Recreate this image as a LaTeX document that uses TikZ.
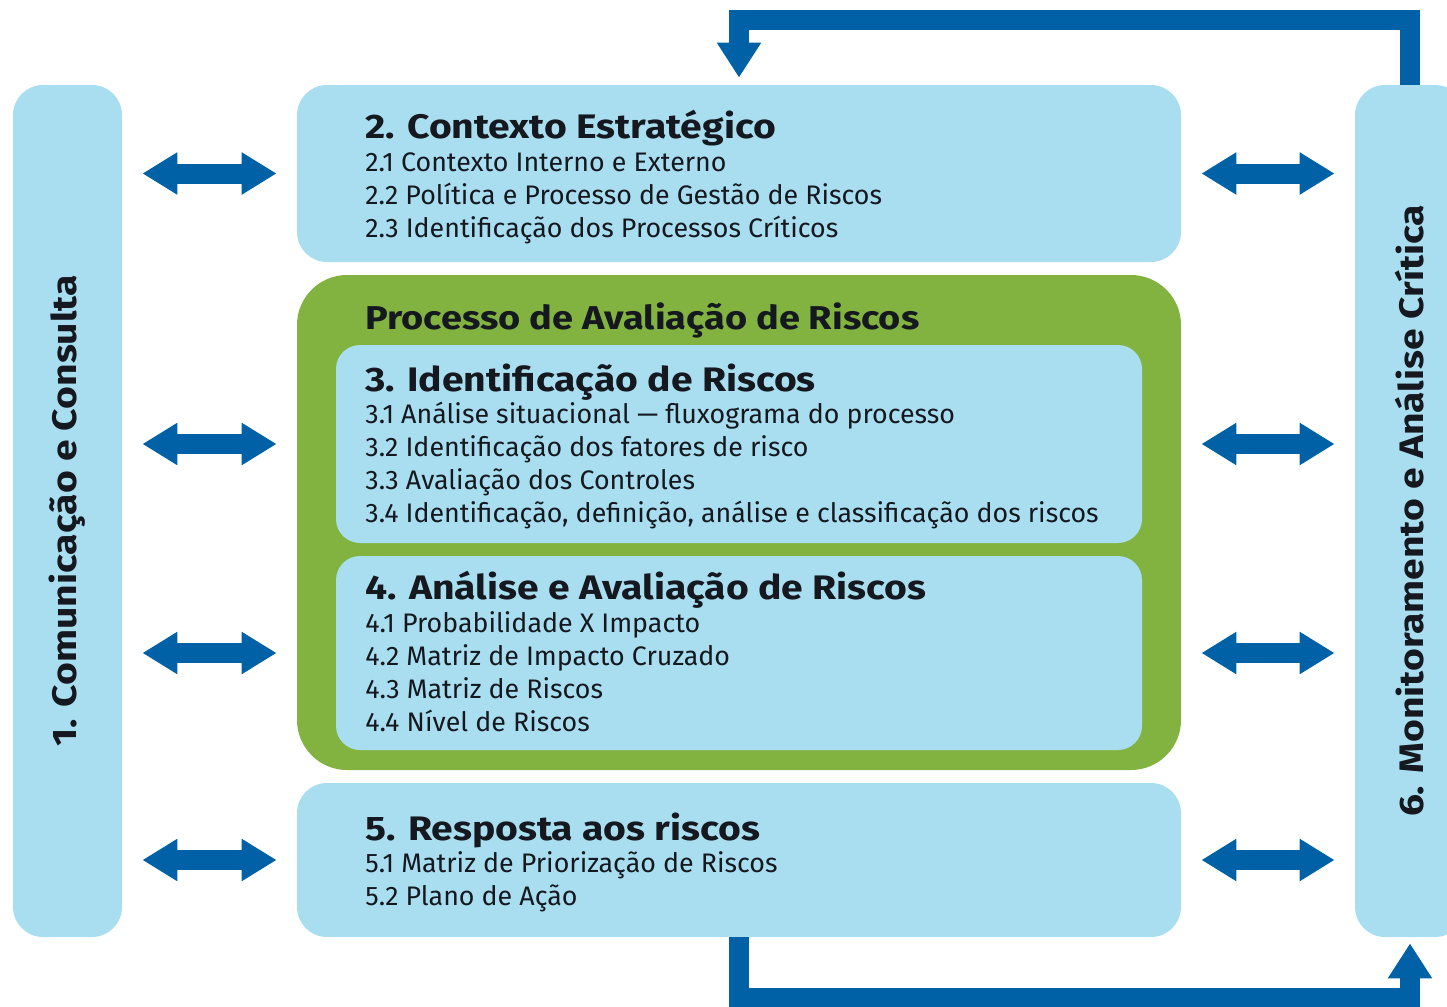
\documentclass[tikz,border=0pt]{standalone}
\usepackage{fontspec}
\setmainfont{Fira Sans}[BoldFeatures={FakeStretch=1.15}]
\usetikzlibrary{arrows.meta}
\definecolor{boxblue}{HTML}{A9DEF0}
\definecolor{procgreen}{HTML}{82B341}
\definecolor{flowblue}{HTML}{0061A6}
\definecolor{inkdark}{HTML}{15191F}

\begin{document}
\begin{tikzpicture}[x=0.5pt,y=-0.5pt,
    panel/.style={fill=boxblue,rounded corners=15pt,inner sep=0pt},
    inner panel/.style={fill=boxblue,rounded corners=12pt,inner sep=0pt},
    title/.style={font=\bfseries\fontsize{17}{20}\selectfont,text=inkdark,anchor=base west,inner sep=0pt},
    body/.style={font=\fontsize{13.4}{15}\selectfont,text=inkdark,anchor=base west,inner sep=0pt},
    side/.style={font=\bfseries\fontsize{17}{20}\selectfont,text=inkdark,rotate=90,inner sep=0pt},
    dblarrow/.style={flowblue,line width=10pt,{Triangle[width=20pt,length=17.5pt]}-{Triangle[width=20pt,length=17.5pt]},shorten <=10pt,shorten >=10pt},
    loopline/.style={flowblue,line width=10pt,-{Triangle[width=21pt,length=17.5pt]}}]

  \clip (0,0) rectangle (1447,1007);

  \node[panel,minimum width=54.5pt,minimum height=426pt] (c1) at (67.5,511) {};
  \node[panel,minimum width=55pt,minimum height=426pt]   (r6) at (1410,511) {};
  \node[panel,minimum width=442pt,minimum height=88.5pt] (c2) at (739,173.5) {};
  \node[fill=procgreen,rounded corners=25pt,inner sep=0pt,minimum width=442pt,minimum height=247.5pt] (proc) at (739,522.5) {};
  \node[inner panel,minimum width=403pt,minimum height=99pt] (b3) at (739,444) {};
  \node[inner panel,minimum width=403pt,minimum height=97pt] (b4) at (739,653) {};
  \node[panel,minimum width=442pt,minimum height=77pt]   (c5) at (739,860) {};

  \node[side] (t1) at (67.5,511) {1. Comunicação e Consulta};
  \node[side] (t6) at (1410,511) {6. Monitoramento e Análise Crítica};

  \node[title] (t2) at (365,138) {2. Contexto Estratégico};
  \foreach \txt [count=\i] in {{2.1 Contexto Interno e Externo},
      {2.2 Política e Processo de Gestão de Riscos},
      {2.3 Identificação dos Processos Críticos}}
    \node[body] (l2-\i) at (365,{171+33*(\i-1)}) {\txt};

  \node[title,font=\bfseries\fontsize{16.5}{19}\selectfont] (tp) at (365,329) {Processo de Avaliação de Riscos};

  \node[title] (t3) at (365,391) {3. Identificação de Riscos};
  \foreach \txt [count=\i] in {{3.1 Análise situacional — fluxograma do processo},
      {3.2 Identificação dos fatores de risco},
      {3.3 Avaliação dos Controles},
      {3.4 Identificação, definição, análise e classificação dos riscos}}
    \node[body] (l3-\i) at (365,{423+33*(\i-1)}) {\txt};

  \node[title] (t4) at (365,599) {4. Análise e Avaliação de Riscos};
  \foreach \txt [count=\i] in {{4.1 Probabilidade X Impacto},
      {4.2 Matriz de Impacto Cruzado},
      {4.3 Matriz de Riscos},
      {4.4 Nível de Riscos}}
    \node[body] (l4-\i) at (365,{632+33*(\i-1)}) {\txt};

  \node[title] (t5) at (365,840) {5. Resposta aos riscos};
  \foreach \txt [count=\i] in {{5.1 Matriz de Priorização de Riscos},
      {5.2 Plano de Ação}}
    \node[body] (l5-\i) at (365,{872+33*(\i-1)}) {\txt};

  \draw (c1.east |- c2) edge[dblarrow] (c2.west);
  \draw (c1.east |- b3) edge[dblarrow] (proc.west |- b3);
  \draw (c1.east |- b4) edge[dblarrow] (proc.west |- b4);
  \draw (c1.east |- c5) edge[dblarrow] (c5.west);
  \draw (c2.east) edge[dblarrow] (r6.west |- c2);
  \draw (proc.east |- b3) edge[dblarrow] (r6.west |- b3);
  \draw (proc.east |- b4) edge[dblarrow] (r6.west |- b4);
  \draw (c5.east) edge[dblarrow] (r6.west |- c5);

  \coordinate (topbar) at (739,19.5);
  \coordinate (botbar) at (739,998);
  \draw[loopline,shorten >=3.5pt] (r6.north) |- (topbar) -- (c2.north);
  \draw[loopline,shorten >=3pt] (c5.south) -- (botbar) -| (r6.south);
\end{tikzpicture}
\end{document}
